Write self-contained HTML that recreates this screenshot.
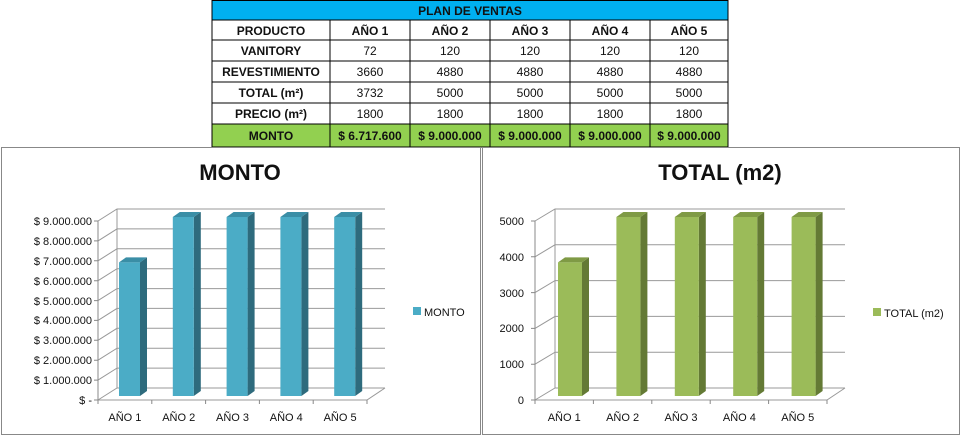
<!DOCTYPE html>
<html><head><meta charset="utf-8"><style>
body{margin:0;width:962px;height:436px;background:#fff;overflow:hidden}
svg{position:absolute;left:0;top:0}
</style></head><body>
<svg width="962" height="436" xmlns="http://www.w3.org/2000/svg" font-family="Liberation Sans, sans-serif" fill="#111">
<!-- TABLE -->
<rect x="212" y="0" width="516" height="20" fill="#00b0f0"/>
<rect x="212" y="124" width="516" height="23" fill="#92d050"/>
<g stroke="#000" stroke-width="1">
<line x1="212" x2="728" y1="0.5" y2="0.5"/><line x1="212" x2="728" y1="20" y2="20"/><line x1="212" x2="728" y1="40" y2="40"/><line x1="212" x2="728" y1="61" y2="61"/><line x1="212" x2="728" y1="82" y2="82"/><line x1="212" x2="728" y1="103" y2="103"/><line x1="212" x2="728" y1="124" y2="124"/><line x1="212" x2="728" y1="147" y2="147"/>
<line x1="212" x2="212" y1="0" y2="147"/><line x1="728" x2="728" y1="0" y2="147"/>
<line x1="330" x2="330" y1="20" y2="147"/><line x1="410" x2="410" y1="20" y2="147"/><line x1="490" x2="490" y1="20" y2="147"/><line x1="570" x2="570" y1="20" y2="147"/><line x1="650" x2="650" y1="20" y2="147"/>
</g>
<g font-size="12" text-anchor="middle">
<text x="470" y="15" font-weight="bold">PLAN DE VENTAS</text>
<g font-weight="bold"><text x="271" y="35">PRODUCTO</text><text x="370" y="35">AÑO 1</text><text x="450" y="35">AÑO 2</text><text x="530" y="35">AÑO 3</text><text x="610" y="35">AÑO 4</text><text x="689" y="35">AÑO 5</text>
<text x="271" y="55">VANITORY</text><text x="271" y="76">REVESTIMIENTO</text><text x="271" y="97">TOTAL (m²)</text><text x="271" y="118">PRECIO (m²)</text>
<text x="271" y="140">MONTO</text><text x="370" y="140">$ 6.717.600</text><text x="450" y="140">$ 9.000.000</text><text x="530" y="140">$ 9.000.000</text><text x="610" y="140">$ 9.000.000</text><text x="689" y="140">$ 9.000.000</text></g>
<text x="370" y="55">72</text><text x="450" y="55">120</text><text x="530" y="55">120</text><text x="610" y="55">120</text><text x="689" y="55">120</text>
<text x="370" y="76">3660</text><text x="450" y="76">4880</text><text x="530" y="76">4880</text><text x="610" y="76">4880</text><text x="689" y="76">4880</text>
<text x="370" y="97">3732</text><text x="450" y="97">5000</text><text x="530" y="97">5000</text><text x="610" y="97">5000</text><text x="689" y="97">5000</text>
<text x="370" y="118">1800</text><text x="450" y="118">1800</text><text x="530" y="118">1800</text><text x="610" y="118">1800</text><text x="689" y="118">1800</text>
</g>

<!-- LEFT CHART -->
<rect x="1.5" y="147.5" width="479" height="287" fill="none" stroke="#888"/>
<text x="240" y="180" font-size="22" font-weight="bold" text-anchor="middle">MONTO</text>
<g stroke="#999" fill="none">
<path d="M98 400L117 388H385M98 380.1L117 368.1H385M98 360.2L117 348.2H385M98 340.3L117 328.3H385M98 320.4L117 308.4H385M98 300.6L117 288.6H385M98 280.7L117 268.7H385M98 260.8L117 248.8H385M98 240.9L117 228.9H385M98 221L117 209H385"/>
<path d="M117 388V209M98 400H367L385 388"/>
<path stroke="#888" d="M98 400V221M94 400H98M94 380.1H98M94 360.2H98M94 340.3H98M94 320.4H98M94 300.6H98M94 280.7H98M94 260.8H98M94 240.9H98M94 221H98M98 400V404M151.8 400V404M205.6 400V404M259.4 400V404M313.2 400V404M367 400V404"/>
</g>
<g font-size="11" text-anchor="end">
<text x="92" y="404">$ -</text><text x="92" y="384">$ 1.000.000</text><text x="92" y="364">$ 2.000.000</text><text x="92" y="344">$ 3.000.000</text><text x="92" y="324">$ 4.000.000</text><text x="92" y="305">$ 5.000.000</text><text x="92" y="285">$ 6.000.000</text><text x="92" y="265">$ 7.000.000</text><text x="92" y="245">$ 8.000.000</text><text x="92" y="225">$ 9.000.000</text>
</g>
<g>
<polygon points="140,262.4 147,257.4 147,391 140,396" fill="#2e6b7d"/><polygon points="119,262.4 126,257.4 147,257.4 140,262.4" fill="#3a8ea6"/><rect x="119" y="262.4" width="21" height="133.6" fill="#4bacc6"/>
<polygon points="193.8,217 200.8,212 200.8,391 193.8,396" fill="#2e6b7d"/><polygon points="172.8,217 179.8,212 200.8,212 193.8,217" fill="#3a8ea6"/><rect x="172.8" y="217" width="21" height="179" fill="#4bacc6"/>
<polygon points="247.6,217 254.6,212 254.6,391 247.6,396" fill="#2e6b7d"/><polygon points="226.6,217 233.6,212 254.6,212 247.6,217" fill="#3a8ea6"/><rect x="226.6" y="217" width="21" height="179" fill="#4bacc6"/>
<polygon points="301.4,217 308.4,212 308.4,391 301.4,396" fill="#2e6b7d"/><polygon points="280.4,217 287.4,212 308.4,212 301.4,217" fill="#3a8ea6"/><rect x="280.4" y="217" width="21" height="179" fill="#4bacc6"/>
<polygon points="355.2,217 362.2,212 362.2,391 355.2,396" fill="#2e6b7d"/><polygon points="334.2,217 341.2,212 362.2,212 355.2,217" fill="#3a8ea6"/><rect x="334.2" y="217" width="21" height="179" fill="#4bacc6"/>
</g>
<g font-size="11" text-anchor="middle">
<text x="124.9" y="421">AÑO 1</text><text x="178.7" y="421">AÑO 2</text><text x="232.5" y="421">AÑO 3</text><text x="286.3" y="421">AÑO 4</text><text x="340.1" y="421">AÑO 5</text>
</g>
<rect x="413" y="307" width="8" height="8" fill="#4bacc6"/><text x="424" y="316" font-size="11">MONTO</text>

<!-- RIGHT CHART -->
<rect x="482.5" y="147.5" width="477" height="287" fill="none" stroke="#888"/>
<text x="720" y="180" font-size="22" font-weight="bold" text-anchor="middle">TOTAL (m2)</text>
<g stroke="#999" fill="none">
<path d="M535 400L555 388H845M535 364.2L555 352.2H845M535 328.4L555 316.4H845M535 292.6L555 280.6H845M535 256.8L555 244.8H845M535 221L555 209H845"/>
<path d="M555 388V209M535 400H827L845 388"/>
<path stroke="#888" d="M535 400V221M531 400H535M531 364.2H535M531 328.4H535M531 292.6H535M531 256.8H535M531 221H535M535 400V404M593.4 400V404M651.8 400V404M710.2 400V404M768.6 400V404M827 400V404"/>
</g>
<g font-size="11" text-anchor="end">
<text x="524" y="404">0</text><text x="524" y="368">1000</text><text x="524" y="332">2000</text><text x="524" y="297">3000</text><text x="524" y="261">4000</text><text x="524" y="225">5000</text>
</g>
<g>
<polygon points="582,262.4 589,257.4 589,391 582,396" fill="#647a35"/><polygon points="558,262.4 565,257.4 589,257.4 582,262.4" fill="#7f9a45"/><rect x="558" y="262.4" width="24" height="133.6" fill="#9bbb59"/>
<polygon points="640.4,217 647.4,212 647.4,391 640.4,396" fill="#647a35"/><polygon points="616.4,217 623.4,212 647.4,212 640.4,217" fill="#7f9a45"/><rect x="616.4" y="217" width="24" height="179" fill="#9bbb59"/>
<polygon points="698.8,217 705.8,212 705.8,391 698.8,396" fill="#647a35"/><polygon points="674.8,217 681.8,212 705.8,212 698.8,217" fill="#7f9a45"/><rect x="674.8" y="217" width="24" height="179" fill="#9bbb59"/>
<polygon points="757.2,217 764.2,212 764.2,391 757.2,396" fill="#647a35"/><polygon points="733.2,217 740.2,212 764.2,212 757.2,217" fill="#7f9a45"/><rect x="733.2" y="217" width="24" height="179" fill="#9bbb59"/>
<polygon points="815.6,217 822.6,212 822.6,391 815.6,396" fill="#647a35"/><polygon points="791.6,217 798.6,212 822.6,212 815.6,217" fill="#7f9a45"/><rect x="791.6" y="217" width="24" height="179" fill="#9bbb59"/>
</g>
<g font-size="11" text-anchor="middle">
<text x="564.2" y="421">AÑO 1</text><text x="622.6" y="421">AÑO 2</text><text x="681" y="421">AÑO 3</text><text x="739.4" y="421">AÑO 4</text><text x="797.8" y="421">AÑO 5</text>
</g>
<rect x="873" y="308" width="8" height="8" fill="#9bbb59"/><text x="884" y="317" font-size="11">TOTAL (m2)</text>
</svg>
</body></html>
